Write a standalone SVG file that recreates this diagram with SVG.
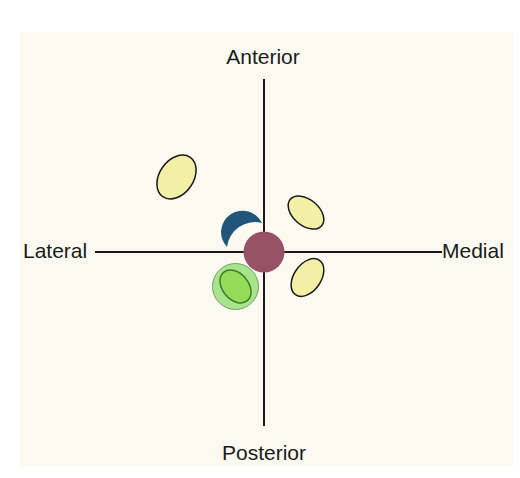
<svg xmlns="http://www.w3.org/2000/svg" width="520" height="478" viewBox="0 0 520 478">
<style>
text{font-family:"Liberation Sans",Arial,sans-serif;font-size:21px;fill:#1a1a1a}
.axis{stroke:#1a1a1a;stroke-width:2;fill:none}
.yel{fill:#f3f0a6;stroke:#1a1a1a;stroke-width:1.5}
</style>
<rect x="20" y="32" width="493" height="435" fill="#fcfaf0"/>
<g id="connectors">
<line class="axis" x1="264" y1="79" x2="264" y2="426"/>
<line class="axis" x1="95" y1="252" x2="442" y2="252"/>
</g>
<g id="anterior"><text x="263" y="64" text-anchor="middle">Anterior</text></g>
<g id="posterior"><text x="264" y="460" text-anchor="middle">Posterior</text></g>
<g id="lateral"><text x="23" y="258">Lateral</text></g>
<g id="medial"><text x="442" y="258">Medial</text></g>
<g id="ellipse-tl"><ellipse class="yel" cx="176.5" cy="177" rx="24" ry="17" transform="rotate(-55 176.5 177)"/></g>
<g id="ellipse-ur"><ellipse class="yel" cx="306" cy="212.5" rx="20.5" ry="13" transform="rotate(40 306 212.5)"/></g>
<g id="ellipse-lr"><ellipse class="yel" cx="307.5" cy="277.5" rx="21" ry="13.5" transform="rotate(-55 307.5 277.5)"/></g>
<g id="crescent"><path d="M262,223 A21.5 21.5 0 1 0 227,247 A28 28 0 0 1 262,223 Z" fill="#1f567a"/></g>
<g id="green"><circle cx="235.5" cy="286.5" r="23" fill="#a8e48a" stroke="#7a9a70" stroke-width="1"/>
<ellipse cx="235.5" cy="286.5" rx="18.5" ry="13" transform="rotate(50 235.5 286.5)" fill="#94dc5a" stroke="#3f7a2e" stroke-width="1.5"/></g>
<g id="center"><circle cx="264" cy="252" r="20.5" fill="#985268"/></g>
</svg>
